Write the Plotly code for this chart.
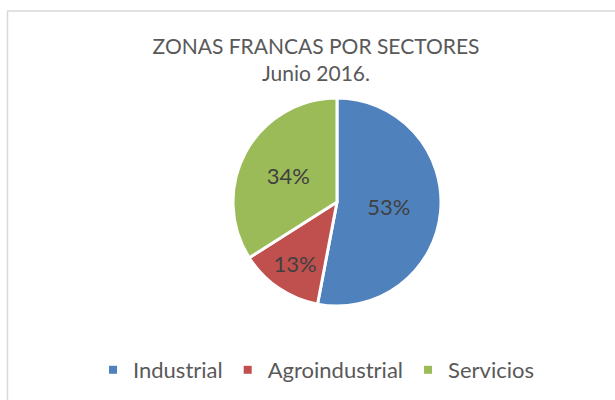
import plotly.graph_objects as go

categories = ["Industrial", "Agroindustrial", "Servicios"]
values = [53, 13, 34]
colors = ["#4F81BD", "#C0504D", "#9BBB59"]
title_lines = ["ZONAS FRANCAS POR SECTORES", "Junio 2016."]

W, H = 615, 400
cx, cy, r = 337, 202, 104

fig = go.Figure()
fig.add_trace(go.Pie(
    labels=categories, values=values, sort=False, direction="clockwise",
    rotation=0,
    marker=dict(colors=colors, line=dict(color="white", width=3)),
    texttemplate="%{percent:.0%}", textposition="inside",
    insidetextorientation="horizontal",
    textfont=dict(family="Lato", size=22, color="#404040"),
    showlegend=False, hoverinfo="label+percent",
    domain=dict(x=[(cx - r) / W, (cx + r) / W],
                y=[(H - cy - r) / H, (H - cy + r) / H]),
))
for c, col in zip(categories, colors):
    fig.add_trace(go.Scatter(
        x=[None], y=[None], mode="markers", name=c,
        marker=dict(symbol="square", size=8, color=col),
        showlegend=True,
    ))

fig.update_layout(
    width=W, height=H,
    margin=dict(l=0, r=0, t=0, b=0),
    paper_bgcolor="white", plot_bgcolor="white",
    xaxis=dict(visible=False), yaxis=dict(visible=False),
    title=dict(text="<br>".join(title_lines), x=316 / W, xanchor="center",
               yref="container", y=1 - 54 / H, yanchor="top",
               font=dict(family="Lato", size=21, color="#595959")),
    legend=dict(orientation="h", x=316 / W, xanchor="center",
                y=30 / H, yanchor="middle", itemsizing="trace",
                font=dict(family="Lato", size=22, color="#595959"),
                bgcolor="rgba(0,0,0,0)"),
    shapes=[dict(type="rect", xref="paper", yref="paper",
                 x0=7.5 / W, x1=1.02, y0=-0.02, y1=(H - 11) / H,
                 line=dict(color="#D9D9D9", width=1.5))],
)

fig.write_html("out.html", config={"displayModeBar": False},
               post_script="document.body.style.margin='0';document.body.style.overflow='hidden';")
